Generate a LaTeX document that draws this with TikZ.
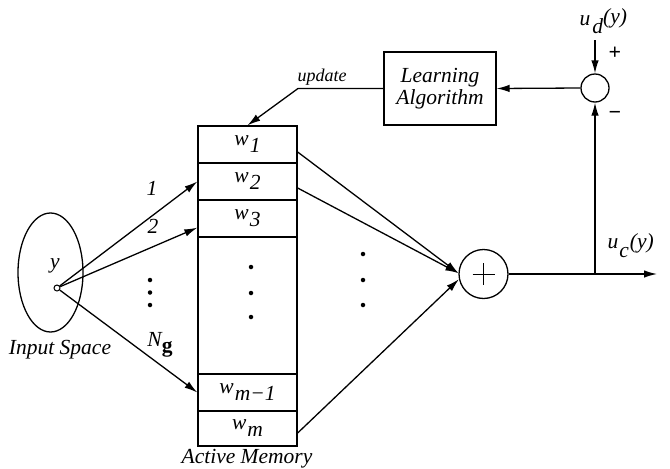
\documentclass[tikz,border=0pt]{standalone}
\usepackage{fontspec}
\setmainfont{Liberation Serif}
\usetikzlibrary{shapes.geometric,arrows.meta,calc}
\begin{document}
\begin{tikzpicture}[x=1pt,y=-1pt,
  line width=1.3pt,
  font=\fontsize{21.5}{22}\selectfont\itshape,
  arr/.style={-{Latex[length=13pt,width=7.5pt]}},
  cell/.style={draw,minimum width=99pt,minimum height=37pt,inner sep=0pt},
  lbl/.style={inner sep=0pt},
  sign/.style={inner sep=0pt,font=\fontsize{22}{22}\selectfont\upshape\bfseries},
  dot/.style={circle,fill,inner sep=0pt,minimum size=4.5pt}]
\useasboundingbox (0,0) rectangle (670,469);

% input space with the sample point y
\node[draw,ellipse,minimum width=65pt,minimum height=119pt,inner sep=0pt] (space) at (50.5,272.5) {};
\node[draw,circle,minimum size=6pt,inner sep=0pt,line width=1pt] (pt) at (57,288) {};
\node[lbl] (ylab) at (55,266) {y};
\node[lbl] (spacelab) at (60,350) {Input Space};

% active memory cells
\node[cell] (w1) at (247.5,144.5) {w\hspace{1pt}\raisebox{-7pt}{1}};
\node[cell] (w2) at (247.5,181.5) {w\hspace{1pt}\raisebox{-7pt}{2}};
\node[cell] (w3) at (247.5,218.5) {w\hspace{1pt}\raisebox{-7pt}{3}};
\node[cell,minimum height=137pt] (wmid) at (247.5,305.5) {};
\node[cell] (wm1) at (247.5,392.5) {w\hspace{1pt}\raisebox{-7pt}{m−1}};
\node[cell,minimum height=35pt] (wm) at (247.5,428.5) {w\hspace{1pt}\raisebox{-7pt}{m}};
\node[lbl] (memlab) at (247,459) {Active Memory};

% dots
\node[dot] (d1) at (150,280) {};
\node[dot] (d2) at (150,292.5) {};
\node[dot] (d3) at (150,305) {};
\node[dot] (m1) at (251,267) {};
\node[dot] (m2) at (251,293) {};
\node[dot] (m3) at (251,317) {};
\node[dot] (c1) at (363,254) {};
\node[dot] (c2) at (363,280) {};
\node[dot] (c3) at (363,305) {};

% addressing arrows
\draw[arr] (pt) -- (w2.west);
\draw[arr] (pt) -- ($(w3.south west)+(0,-10)$);
\draw[arr] (pt) -- (wm1.west);
\node[lbl] (n1) at (152,188) {1};
\node[lbl] (n2) at (153,226) {2};
\node[lbl] (ng) at (160,345) {N\raisebox{-6pt}{\upshape\bfseries g}};

% summing junction
\node[draw,circle,minimum size=49pt,inner sep=0pt] (sum) at (483.5,274) {};
\draw[line width=0.8pt] ($(sum.center)+(-11,0)$) -- ($(sum.center)+(11,0)$)
                        ($(sum.center)+(0,-11)$) -- ($(sum.center)+(0,11)$);
\draw[arr] ($(w1.east)+(0,7.5)$) -- (sum.178);
\draw[arr] ($(w2.east)+(0,6.5)$) -- (sum.178);
\draw[arr] ($(wm.east)+(0,4.5)$) -- (sum.192);

% output and error feedback
\coordinate (junc) at (595,274);
\coordinate (out) at (657,274);
\draw[arr] (sum.east) -- (out);
\node[lbl,anchor=west] (uclab) at (607,246) {u\hspace{1pt}\raisebox{-9pt}{c}\hspace{1pt}(y)};

\node[draw,circle,minimum size=28pt,inner sep=0pt] (diff) at (595,88) {};
\coordinate (udtop) at (595,40);
\draw[arr] (udtop) -- (diff.north);
\draw[arr] (junc) -- (diff.south);
\node[lbl,anchor=west] (udlab) at (579,21) {u\hspace{2pt}\raisebox{-8pt}{d}\raisebox{2pt}{(y)}};
\node[sign] (plus) at (615,53) {+};
\node[sign] (minus) at (615,115) {−};

% learning algorithm and update path
\node[draw,minimum width=112pt,minimum height=73pt,align=center,inner sep=0pt] (learn) at (440,88.5) {Learning\\Algorithm};
\draw[arr] (diff.west) -- (learn.east);
\coordinate (bend) at (298,88.5);
\draw[arr] (learn.west) -- (bend) -- (w1.north);
\node[lbl,font=\fontsize{18}{20}\selectfont\itshape] (updlab) at (322,77) {update};
\end{tikzpicture}
\end{document}
